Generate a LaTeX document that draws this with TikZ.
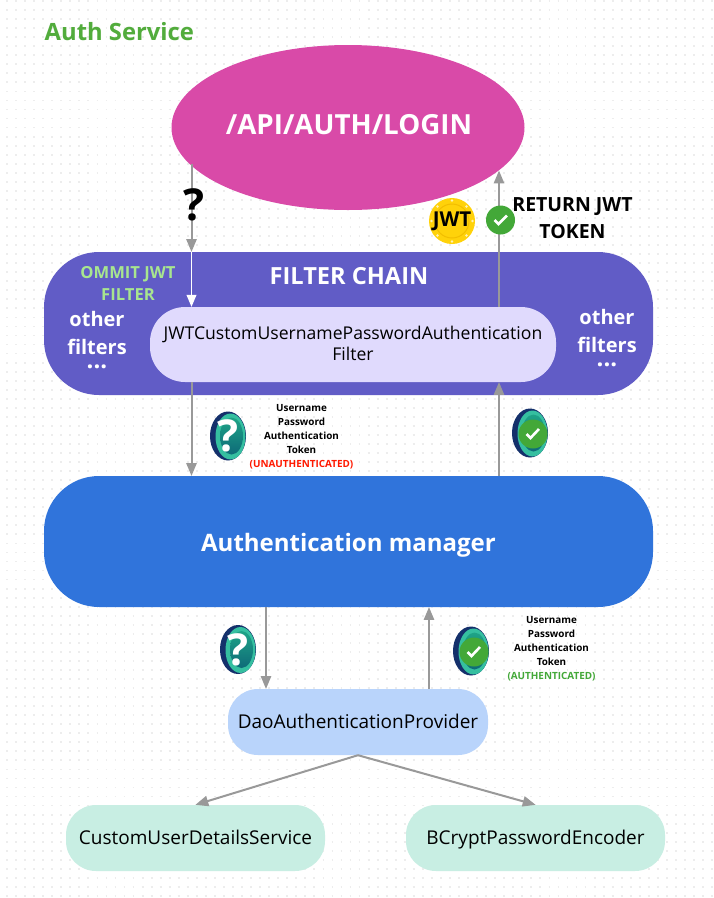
\documentclass[tikz,border=0pt]{standalone}
\usepackage{fontspec}
\setmainfont{Open Sans}
\usetikzlibrary{arrows,positioning,shapes.geometric}

\definecolor{loginpink}{HTML}{D94AA8}
\definecolor{chainpurple}{HTML}{615CC6}
\definecolor{innerlilac}{HTML}{E0DAFD}
\definecolor{managerblue}{HTML}{3074DB}
\definecolor{daoblue}{HTML}{B9D4FB}
\definecolor{servicemint}{HTML}{C8EEE3}
\definecolor{titlegreen}{HTML}{52AC3C}
\definecolor{okgreen}{HTML}{43A838}
\definecolor{arrowgray}{HTML}{999999}
\definecolor{omitgreen}{HTML}{A8E68F}
\definecolor{coinnavy}{HTML}{14306B}
\definecolor{cointeal}{HTML}{35BFA0}
\definecolor{coinfront}{HTML}{1FA487}
\definecolor{coindark}{HTML}{0E6A78}
\definecolor{jwtgold}{HTML}{FFD20A}
\definecolor{jwtring}{HTML}{F2BE00}

\newcommand{\filterdots}{{\fontsize{24}{24}\selectfont...}}

\tikzset{
  pill/.style={draw=none,inner sep=0pt,align=center,minimum height=66pt,minimum width=259pt,
               rounded corners=30pt,text height=18pt,text depth=4.5pt,font=\fontsize{19}{23}\selectfont},
  flow/.style={->,draw=arrowgray,line width=2pt},
  tinylabel/.style={align=center,font=\bfseries\fontsize{9.9}{14}\selectfont},
  whitelabel/.style={anchor=north,align=center,text=white,font=\bfseries\fontsize{20}{28}\selectfont},
  pics/tokenbase/.style={code={
    \fill[coinnavy] (0,0) ellipse (18pt and 24.5pt);
    \fill[cointeal] (2.5pt,-.5pt) ellipse (15pt and 23pt);
    \shade[top color=coinfront,bottom color=coindark] (3.5pt,0) ellipse (11.5pt and 18.5pt);
  }},
  pics/tokenask/.style={code={
    \pic {tokenbase};
    \node[text=white,font=\bfseries\fontsize{44}{44}\selectfont] at (0pt,0pt) {?};
  }},
  pics/tokenok/.style={code={
    \pic {tokenbase};
    \fill[okgreen] (3pt,-1pt) circle (14.5pt);
    \draw[white,line width=2.6pt] (-3.5pt,-1pt) -- (.5pt,-5pt) -- (9pt,4pt);
  }}
}

\begin{document}
\begin{tikzpicture}[x=1pt,y=-1pt,>=triangle 45,
                    every node/.style={inner sep=0pt}]
  \useasboundingbox (0,0) rectangle (714,898);
  \fill[white] (0,0) rectangle (714,898);

  % dotted canvas
  \foreach \j in {0,...,99}
    \draw[black!7,line width=1.8pt,dash pattern=on 1.8pt off 7.24pt] (6.1,{1+9.04*\j}) -- (714,{1+9.04*\j});

  \node[anchor=west,text=titlegreen,font=\bfseries\fontsize{23.8}{28}\selectfont] (title) at (44.5,31.5) {Auth Service};

  \node[ellipse,fill=loginpink,minimum width=353pt,minimum height=165pt] (login) at (348,127.5) {};
  \node[text=white,font=\bfseries\fontsize{27.7}{34}\selectfont] (logintext) at (349,125) {/API/AUTH/LOGIN};

  \node[pill,fill=chainpurple,minimum width=609pt,minimum height=143pt,rounded corners=55pt] (chain) at (348.5,323.5) {};
  \node[text=white,font=\bfseries\fontsize{23.6}{26}\selectfont] (chaintext) at (349,276) {FILTER CHAIN};
  \node[text=omitgreen,align=center,font=\bfseries\fontsize{16.6}{22}\selectfont] (omit) at (128,283) {OMMIT JWT\\FILTER};
  \node[whitelabel] (otherL) at (97,311.5) {other\\filters\\[-14.5pt]\filterdots};
  \node[whitelabel] (otherR) at (607,309.5) {other\\filters\\[-14.5pt]\filterdots};

  \node[pill,fill=innerlilac,minimum width=406pt,minimum height=75pt,rounded corners=35pt,
        text height=,text depth=] (jwtfilter) at (353,344.5) {};
  \node[align=center,font=\fontsize{17.6}{20.5}\selectfont] (jwtfiltertext) at (353,343.5) {JWTCustomUsernamePasswordAuthentication\\Filter};

  \node[pill,fill=managerblue,minimum width=609pt,minimum height=131pt,rounded corners=55pt] (manager) at (348.5,541.5) {};
  \node[text=white,font=\bfseries\fontsize{24}{28}\selectfont] (managertext) at (348.5,545) {Authentication manager};

  \node[pill,fill=daoblue,minimum width=260pt] (dao) at (358,722) {DaoAuthenticationProvider};
  \node[pill,fill=servicemint] (details) at (195.5,838) {CustomUserDetailsService};
  \node[pill,fill=servicemint] (encoder) at (535.5,838) {BCryptPasswordEncoder};

  \coordinate (askX) at (191.5,250);
  \coordinate (retX) at (499,250);
  \coordinate (downX) at (266,650);
  \coordinate (upX) at (429,650);
  \draw[flow] (login.193.6 -| askX) -- (chain.north -| askX);
  \draw[flow,draw=white,line width=1.8pt] (chain.north -| askX) -- (jwtfilter.north -| askX);
  \draw[flow] (jwtfilter.north -| retX) -- (login.344.1 -| retX);
  \draw[flow] (jwtfilter.south -| askX) -- (manager.north -| askX);
  \draw[flow] (manager.north -| retX) -- (jwtfilter.south -| retX);
  \draw[flow] (manager.south -| downX) -- (dao.north -| downX);
  \draw[flow] (dao.north -| upX) -- (manager.south -| upX);
  \draw[flow] (dao.south) -- (details.north);
  \draw[flow] (dao.south) -- (encoder.north);

  \node[font=\bfseries\fontsize{44}{44}\selectfont] (ask) at (194,205) {?};

  % jwt coin and check
  \node[circle,fill=jwtgold,minimum size=46pt] (coin) at (452,221) {};
  \draw[jwtring,line width=1pt] (coin) circle (17pt);
  \foreach \a in {0,45,...,315}
    \fill[white!70!jwtgold] (coin.center) ++(\a:20.5pt) circle (1.4pt);
  \node[font=\bfseries\fontsize{20.5}{24}\selectfont] (coinlabel) at (452,221) {JWT};
  \node[circle,fill=okgreen,minimum size=29pt] (okmark) at (500.5,220) {};
  \draw[white,line width=2.6pt] (494.5,220) -- (498.5,224) -- (507,215.5);
  \node[align=center,font=\bfseries\fontsize{19.5}{27}\selectfont] (returnjwt) at (572.5,218) {RETURN JWT\\TOKEN};

  % tokens
  \pic at (228,436) {tokenask};
  \pic at (530,433) {tokenok};
  \pic at (238,649.5) {tokenask};
  \pic at (471,651) {tokenok};
  \node[tinylabel] (tokenA) at (301.5,437) {Username\\Password\\Authentication\\Token\\\textcolor{red!80!orange}{(UNAUTHENTICATED)}};
  \node[tinylabel] (tokenB) at (551.5,649) {Username\\Password\\Authentication\\Token\\\textcolor{okgreen}{(AUTHENTICATED)}};
\end{tikzpicture}
\end{document}
